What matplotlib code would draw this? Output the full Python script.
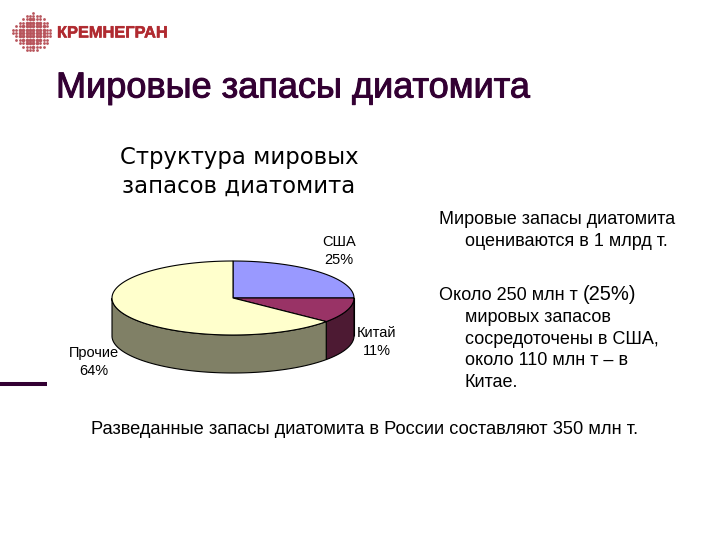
import numpy as np
import matplotlib
matplotlib.use('Agg')
import matplotlib.pyplot as plt
import matplotlib.patheffects as pe

plt.rcParams['font.family'] = ['Liberation Sans', 'DejaVu Sans']

# доли запасов, %
strany = ['США', 'Китай', 'Прочие']
doli = [25, 11, 64]
cveta_verh = ['#9999ff', '#993366', '#ffffcc']
cveta_bok = ['#4d4d80', '#4d1a33', '#808066']

titul = 'Мировые запасы диатомита'
zagolovok = 'Структура мировых\nзапасов диатомита'
logo_text = 'КРЕМНЕГРАН'
abzac1 = ['Мировые запасы диатомита', 'оцениваются в 1 млрд т.']
abzac2 = ['мировых запасов', 'сосредоточены в США,', 'около 110 млн т – в', 'Китае.']
niz = 'Разведанные запасы диатомита в России составляют 350 млн т.'

fig = plt.figure(figsize=(7.2, 5.4), dpi=100)
ax = fig.add_axes([0, 0, 1, 1])
ax.set_xlim(0, 720)
ax.set_ylim(540, 0)
ax.axis('off')

# логотип из точек
for yy in np.arange(12.5, 53, 3.4):
    for xx in np.arange(13, 54, 3.4):
        d = (abs(xx - 32.5) ** 1.45 + abs(yy - 32.5) ** 1.45) / 20.5 ** 1.45
        if d < 1:
            ax.plot(xx, yy, 'o', ms=2.6 if d < 0.6 else 2.0, color='#b8555c', mew=0)
ax.text(57, 33, logo_text, fontsize=11.8, fontweight='bold', color='#b02a30',
        va='center', ha='left',
        path_effects=[pe.withStroke(linewidth=0.4, foreground='#b02a30')])

ax.text(56, 88, titul, fontsize=26, color='#330033', va='center', ha='left',
        path_effects=[pe.withStroke(linewidth=0.7, foreground='#330033')])

ax.text(239, 172, zagolovok, fontsize=16.4, color='black', ha='center', va='center',
        linespacing=1.35, family='DejaVu Sans')

# псевдо-3D круговая диаграмма
cx, cy, rx, ry, h = 233, 298, 121, 37, 38
ugol = 90.0
for i in range(3):
    shag = doli[i] / sum(doli) * 360
    t = np.radians(np.linspace(ugol, ugol - shag, 200))
    x = cx + rx * np.cos(t)
    y = cy - ry * np.sin(t)
    # боковая стенка только для нижней половины
    niz_mask = np.sin(t) <= 0
    if niz_mask.any():
        xs = x[niz_mask]
        ys = y[niz_mask]
        ax.fill(np.r_[xs, xs[::-1]], np.r_[ys, ys[::-1] + h],
                facecolor=cveta_bok[i], edgecolor='black', lw=0.8, zorder=2)
    ax.fill(np.r_[cx, x], np.r_[cy, y], facecolor=cveta_verh[i],
            edgecolor='black', lw=0.8, zorder=3)
    ugol -= shag

poz = [(339, 251), (377, 342), (94, 362)]
for i in range(3):
    ax.text(poz[i][0], poz[i][1], f'{strany[i]}\n{doli[i]}%', fontsize=10.5,
            ha='center', va='center', linespacing=1.45, color='black')

# линия слева
ax.plot([0, 47], [384, 384], color='#330033', lw=2.9, solid_capstyle='butt')

# текст справа
ax.text(439, 220, abzac1[0], fontsize=13, va='center')
ax.text(465, 241, abzac1[1], fontsize=13, va='center')
ax.text(439, 296, 'Около 250 млн т', fontsize=13, va='center')
ax.text(583, 295, '(25%)', fontsize=14.5, va='center')
for n, s in enumerate(abzac2):
    ax.text(465, 318 + n * 21.4, s, fontsize=13, va='center')
ax.text(91, 429, niz, fontsize=13.15, va='center')

fig.savefig('out.png', dpi=100)
